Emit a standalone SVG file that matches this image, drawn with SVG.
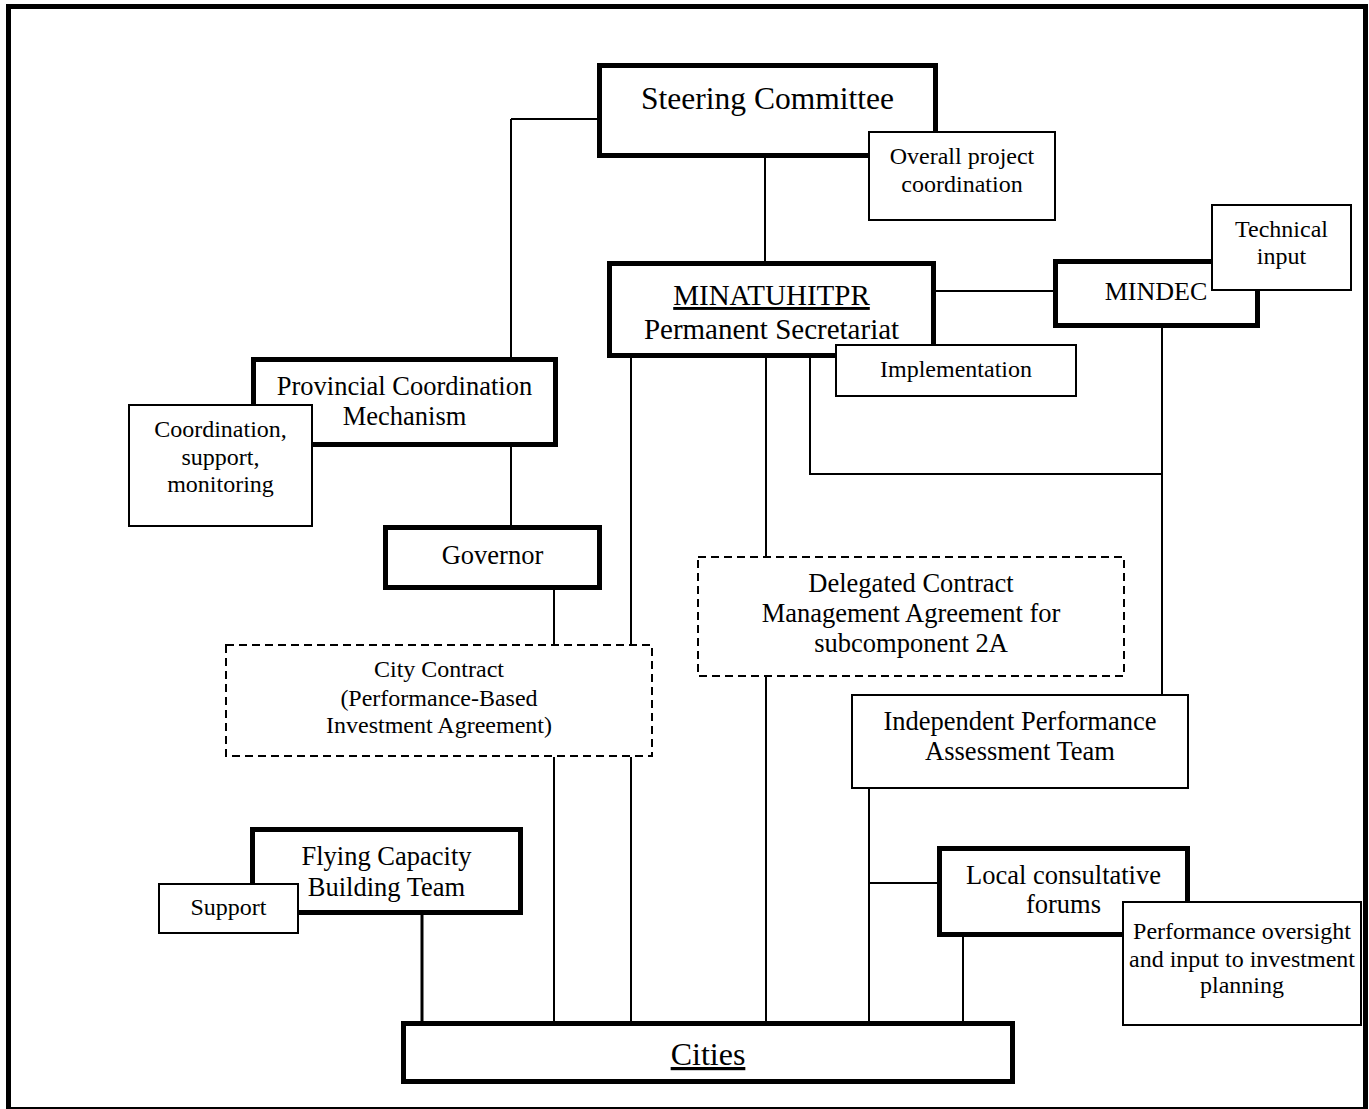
<svg xmlns="http://www.w3.org/2000/svg" width="1369" height="1109" viewBox="0 0 1369 1109">
<style>
text{font-family:"Liberation Serif","Times New Roman",serif;fill:#000;text-anchor:middle}
.main{fill:#fff;stroke:#000;stroke-width:5}
.note{fill:#fff;stroke:#000;stroke-width:2}
.dash{fill:#fff;stroke:#000;stroke-width:2;stroke-dasharray:8 5}
.t26{font-size:26.5px}
.t24{font-size:24px}
.conn path{fill:none;stroke:#000;stroke-width:2}
</style>
<rect x="0" y="0" width="1369" height="1109" fill="#fff"/>
<rect id="frame" x="8.5" y="6.5" width="1357" height="1103" fill="none" stroke="#000" stroke-width="5"/>
<g id="connectors" class="conn">
<path d="M511,119 H597 M511,119 V357"/>
<path d="M765,158 V261"/>
<path d="M936,291 H1053"/>
<path d="M511,447 V525"/>
<path d="M554,590 V644 M554,757 V1021"/>
<path d="M631,358 V644 M631,757 V1021"/>
<path d="M766,358 V556 M766,677 V1021"/>
<path d="M810,358 V474 H1162"/>
<path d="M1162,328 V694"/>
<path d="M869,789 V1021 M869,883 H937"/>
<path d="M963,937 V1021"/>
<path d="M422,915 V1021" style="stroke-width:3"/>
</g>
<g id="steering">
<rect class="main" x="599.5" y="65.5" width="336" height="90"/>
<text x="767.5" y="109" style="font-size:31.5px">Steering Committee</text>
</g>
<g id="overall">
<rect class="note" x="869" y="132" width="186" height="88"/>
<text class="t24" x="962" y="164">Overall project</text>
<text class="t24" x="962" y="192">coordination</text>
</g>
<g id="minatuhitpr">
<rect class="main" x="609.5" y="263.5" width="324" height="92"/>
<text x="771.5" y="305" style="font-size:29px;text-decoration:underline">MINATUHITPR</text>
<text x="771.5" y="339" style="font-size:29px">Permanent Secretariat</text>
</g>
<g id="implementation">
<rect class="note" x="836" y="345" width="240" height="51"/>
<text class="t24" x="956" y="377">Implementation</text>
</g>
<g id="mindec">
<rect class="main" x="1055.5" y="261.5" width="202" height="64"/>
<text x="1156" y="300" style="font-size:26px">MINDEC</text>
</g>
<g id="technical">
<rect class="note" x="1212" y="205" width="139" height="85"/>
<text class="t24" x="1281.5" y="237">Technical</text>
<text class="t24" x="1281.5" y="264">input</text>
</g>
<g id="provincial">
<rect class="main" x="253.5" y="359.5" width="302" height="85"/>
<text class="t26" x="404.5" y="395">Provincial Coordination</text>
<text class="t26" x="404.5" y="425">Mechanism</text>
</g>
<g id="coordination">
<rect class="note" x="129" y="405" width="183" height="121"/>
<text class="t24" x="220.5" y="437">Coordination,</text>
<text class="t24" x="220.5" y="465">support,</text>
<text class="t24" x="220.5" y="492">monitoring</text>
</g>
<g id="governor">
<rect class="main" x="385.5" y="527.5" width="214" height="60"/>
<text class="t26" x="492.5" y="564">Governor</text>
</g>
<g id="citycontract">
<rect class="dash" x="226" y="645" width="426" height="111"/>
<text class="t24" x="439" y="677">City Contract</text>
<text class="t24" x="439" y="706">(Performance-Based</text>
<text class="t24" x="439" y="733">Investment Agreement)</text>
</g>
<g id="delegated">
<rect class="dash" x="698" y="557" width="426" height="119"/>
<text class="t26" x="911" y="592">Delegated Contract</text>
<text class="t26" x="911" y="622">Management Agreement for</text>
<text class="t26" x="911" y="652">subcomponent 2A</text>
</g>
<g id="ipat">
<rect class="note" x="852" y="695" width="336" height="93"/>
<text class="t26" x="1020" y="730">Independent Performance</text>
<text class="t26" x="1020" y="760">Assessment Team</text>
</g>
<g id="flying">
<rect class="main" x="252.5" y="829.5" width="268" height="83"/>
<text class="t26" x="386.5" y="865">Flying Capacity</text>
<text class="t26" x="386.5" y="896">Building Team</text>
</g>
<g id="support">
<rect class="note" x="159" y="884" width="139" height="49"/>
<text class="t24" x="228.5" y="915">Support</text>
</g>
<g id="localforums">
<rect class="main" x="939.5" y="848.5" width="248" height="86"/>
<text class="t26" x="1063.5" y="884">Local consultative</text>
<text class="t26" x="1063.5" y="913">forums</text>
</g>
<g id="performance">
<rect class="note" x="1123" y="902" width="238" height="123"/>
<text class="t24" x="1242" y="939">Performance oversight</text>
<text class="t24" x="1242" y="967">and input to investment</text>
<text class="t24" x="1242" y="993">planning</text>
</g>
<g id="cities">
<rect class="main" x="403.5" y="1023.5" width="609" height="58"/>
<text x="708" y="1065" style="font-size:32px;text-decoration:underline">Cities</text>
</g>
</svg>
